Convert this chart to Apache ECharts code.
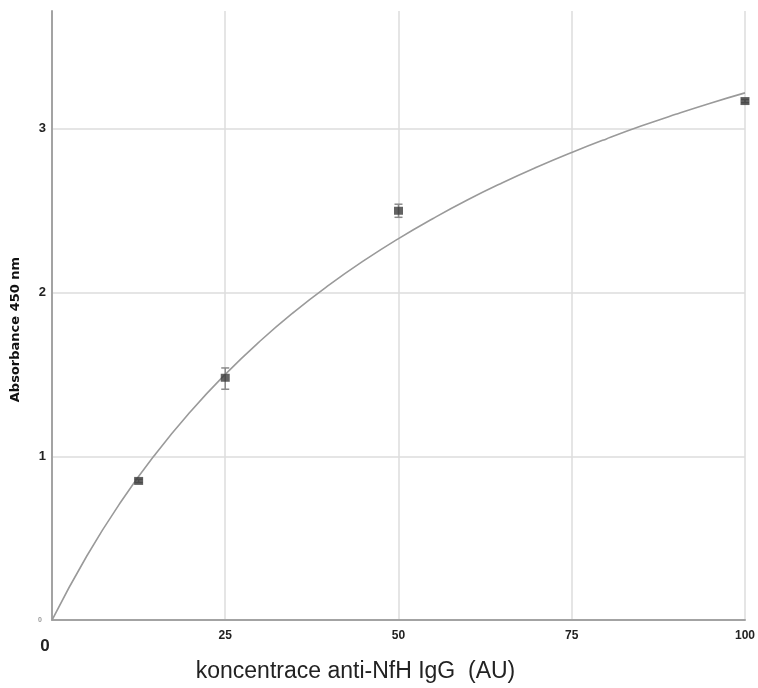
<!DOCTYPE html>
<html>
<head>
<meta charset="utf-8">
<script src="https://cdn.jsdelivr.net/npm/echarts@6/dist/echarts.min.js"></script>
<style>
  html, body { margin: 0; padding: 0; background: #fff; overflow: hidden; }
  #chart { width: 758px; height: 688px; }
</style>
</head>
<body>
<div id="chart"></div>
<script>
// Measured standards: concentration (AU) vs. absorbance at 450 nm
const concentration = [12.5, 25, 50, 100];
const absorbance = [0.85, 1.48, 2.50, 3.17];
const errLow = [0.84, 1.41, 2.46, 3.16];
const errHigh = [0.86, 1.54, 2.54, 3.18];

// Fitted saturation curve, sampled every 5 AU
const fitX = [0, 5, 10, 15, 20, 25, 30, 35, 40, 45, 50, 55, 60, 65, 70, 75, 80, 85, 90, 95, 100];
const fitY = [0, 0.39, 0.726, 1.018, 1.274, 1.501, 1.703, 1.884, 2.047, 2.195, 2.33, 2.453,
              2.567, 2.671, 2.767, 2.856, 2.939, 3.017, 3.089, 3.157, 3.22];

// Axis ticks
const xTicks = [0, 25, 50, 75, 100];
const yTicks = [0, 1, 2, 3];

const el = document.getElementById('chart');
const chart = echarts.init(el);

const pts = concentration.map((c, i) => [c, absorbance[i]]);
const bars = concentration.map((c, i) => [c, errLow[i], errHigh[i]]);
const fit = fitX.map((x, i) => [x, fitY[i]]);

chart.setOption({
  animation: false,
  backgroundColor: '#ffffff',
  grid: { left: 52, right: 13, top: 11, bottom: 57, containLabel: false },
  xAxis: {
    type: 'value',
    min: xTicks[0],
    max: xTicks[xTicks.length - 1],
    interval: 25,
    name: 'koncentrace anti-NfH IgG  (AU)',
    nameLocation: 'middle',
    nameGap: 33,
    nameTextStyle: { fontFamily: 'Liberation Sans', fontSize: 23, color: '#222', padding: [0, 86, 0, 0] },
    axisLine: { show: true, lineStyle: { color: '#a3a3a3', width: 2 } },
    axisTick: { show: false },
    axisLabel: {
      margin: 10,
      formatter: v => v === 0 ? '{z|0}' : String(v),
      fontFamily: 'Liberation Sans',
      fontSize: 12,
      fontWeight: 'bold',
      color: '#222',
      rich: {
        z: { fontSize: 17, fontWeight: 'bold', color: '#222', fontFamily: 'Liberation Sans', padding: [8, 14, 0, 0] }
      }
    },
    splitLine: { show: true, showMinLine: false, lineStyle: { color: '#dcdcdc', width: 1.5 } }
  },
  yAxis: {
    type: 'value',
    min: yTicks[0],
    max: 3.72,
    interval: 1,
    name: 'Absorbance 450 nm',
    nameLocation: 'middle',
    nameGap: 30,
    nameTextStyle: { fontFamily: 'DejaVu Sans', fontSize: 13, fontWeight: 'bold', color: '#111', padding: [0, 28, 0, 0] },
    axisLine: { show: true, lineStyle: { color: '#a3a3a3', width: 2 } },
    axisTick: { show: false },
    axisLabel: {
      margin: 6,
      showMaxLabel: false,
      formatter: v => v === 0 ? '{s|0}' : (yTicks.indexOf(v) >= 0 ? String(v) : ''),
      fontFamily: 'Liberation Sans',
      fontSize: 13,
      fontWeight: 'bold',
      color: '#222',
      rich: {
        s: { fontSize: 7, color: '#999', fontFamily: 'Liberation Sans', padding: [0, 4, 0, 0] }
      }
    },
    splitLine: { show: true, showMinLine: false, showMaxLine: false, lineStyle: { color: '#dcdcdc', width: 1.5 } }
  },
  series: [
    {
      type: 'line',
      data: fit,
      smooth: true,
      showSymbol: false,
      lineStyle: { color: '#9a9a9a', width: 1.6 },
      z: 2
    },
    {
      type: 'custom',
      data: bars,
      renderItem: (params, api) => {
        const x = api.value(0);
        const lo = api.coord([x, api.value(1)]);
        const hi = api.coord([x, api.value(2)]);
        const cap = 4;
        const st = { stroke: '#8a8a8a', lineWidth: 1.5 };
        return {
          type: 'group',
          children: [
            { type: 'line', shape: { x1: lo[0], y1: lo[1], x2: hi[0], y2: hi[1] }, style: st },
            { type: 'line', shape: { x1: lo[0] - cap, y1: lo[1], x2: lo[0] + cap, y2: lo[1] }, style: st },
            { type: 'line', shape: { x1: hi[0] - cap, y1: hi[1], x2: hi[0] + cap, y2: hi[1] }, style: st }
          ]
        };
      },
      z: 3
    },
    {
      type: 'scatter',
      data: pts,
      symbol: 'rect',
      symbolSize: [9, 8],
      itemStyle: { color: '#3b3b3b' },
      z: 4
    }
  ]
});
</script>
</body>
</html>
